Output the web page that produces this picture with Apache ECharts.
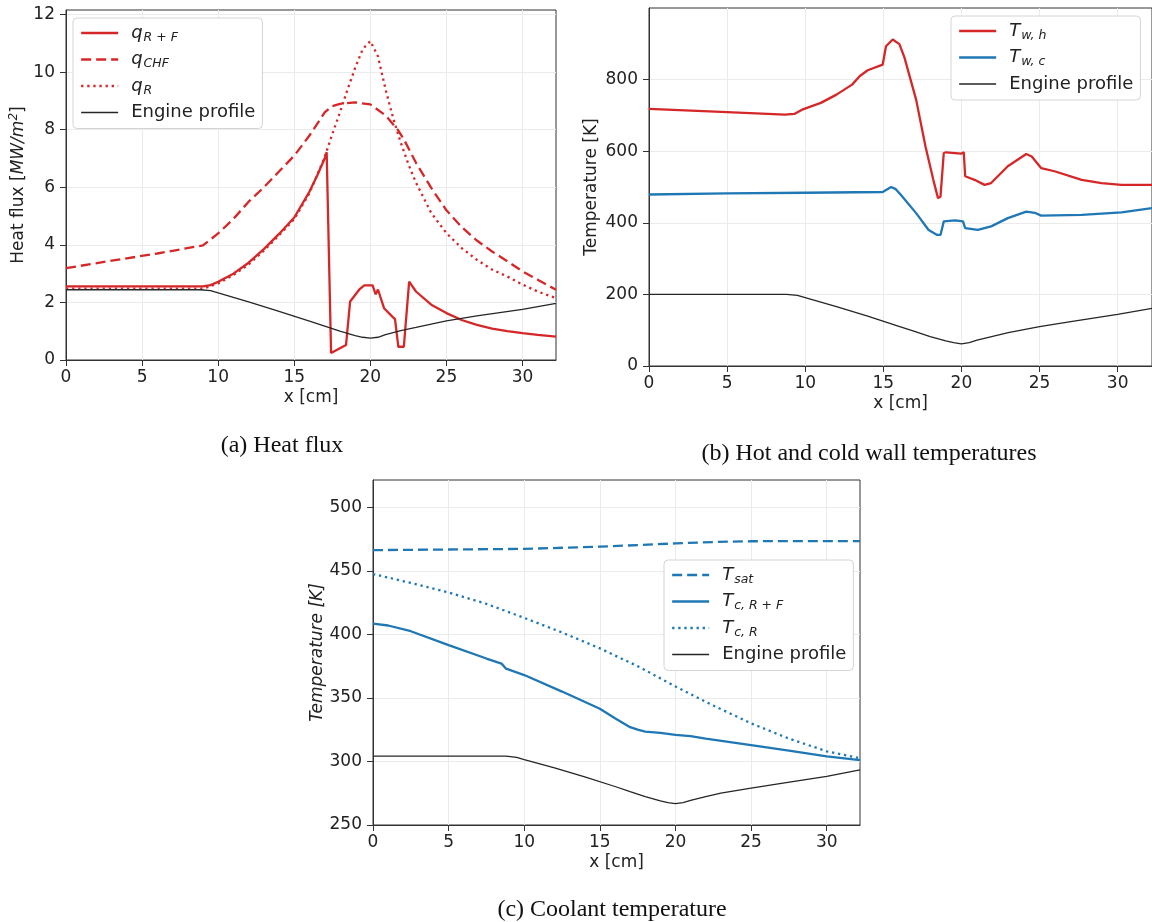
<!DOCTYPE html>
<html><head><meta charset="utf-8">
<script src="https://cdn.jsdelivr.net/npm/echarts@6/dist/echarts.min.js"></script>
<style>html,body{margin:0;padding:0;background:#fff}#c{width:1152px;height:922px}</style>
</head><body><div id="c"></div>
<script>
// ---------- tick labels ----------
const xTicks = [0, 5, 10, 15, 20, 25, 30];
const yTicksA = [0, 2, 4, 6, 8, 10, 12];
const yTicksB = [0, 200, 400, 600, 800];
const yTicksC = [250, 300, 350, 400, 450, 500];

// ---------- (a) Heat flux [MW/m^2] ----------
const qRF_x = [0, 9, 9.5, 10, 11, 12, 13, 14, 15, 16, 16.5, 17, 17.13, 17.42, 18.4, 18.67, 19.28, 19.6, 20.15, 20.35, 20.5, 20.9, 21.46, 21.62, 21.84, 22.2, 22.55, 23, 24, 25, 26, 27, 28, 29, 30, 31, 32.2];
const qRF_y = [2.56, 2.56, 2.6, 2.72, 3.0, 3.38, 3.85, 4.38, 4.95, 5.85, 6.4, 7.0, 7.22, 0.24, 0.52, 2.03, 2.45, 2.59, 2.59, 2.28, 2.45, 1.8, 1.5, 1.42, 0.46, 0.46, 2.72, 2.38, 1.92, 1.63, 1.39, 1.22, 1.09, 1.0, 0.93, 0.87, 0.81];
const qCHF_x = [0, 3, 6, 9, 10, 11, 12, 13, 14, 15, 16, 17, 17.5, 18, 19, 20, 21, 21.8, 22.2, 23, 24, 25, 26, 27, 28, 29, 30, 31, 32.2];
const qCHF_y = [3.19, 3.45, 3.7, 3.98, 4.4, 4.9, 5.5, 6.0, 6.55, 7.1, 7.8, 8.6, 8.82, 8.9, 8.95, 8.88, 8.5, 8.0, 7.67, 6.85, 5.98, 5.2, 4.62, 4.15, 3.77, 3.43, 3.08, 2.79, 2.44];
const qR_x = [0, 9, 10, 11, 12, 13, 14, 15, 16, 17, 17.5, 18, 18.5, 19, 19.5, 20, 20.5, 21, 21.5, 22, 22.5, 23, 24, 25, 26, 27, 28, 29, 30, 31, 32.2];
const qR_y = [2.48, 2.48, 2.66, 2.95, 3.32, 3.8, 4.33, 4.9, 5.8, 7.05, 7.85, 8.6, 9.4, 10.15, 10.8, 11.08, 10.55, 9.4, 8.4, 7.55, 6.8, 6.16, 5.11, 4.41, 3.89, 3.48, 3.14, 2.9, 2.62, 2.38, 2.15];
const engA_x = [0, 8.8, 9.5, 10, 12, 14, 16, 17, 18, 19, 19.5, 20, 20.5, 21, 22, 23, 25, 27, 30, 32.2];
const engA_y = [2.44, 2.44, 2.41, 2.33, 2.02, 1.69, 1.35, 1.18, 1.0, 0.85, 0.79, 0.76, 0.79, 0.88, 1.02, 1.13, 1.36, 1.53, 1.76, 1.97];

// ---------- (b) Wall temperatures [K] ----------
const Twh_x = [0, 5, 8.7, 9.3, 9.8, 11, 12, 13, 13.5, 14, 14.96, 15.17, 15.6, 16.03, 16.35, 17.1, 17.7, 18.2, 18.5, 18.66, 18.87, 19.02, 19.98, 20.15, 20.24, 20.84, 21.48, 21.9, 22.97, 24.15, 24.5, 25.1, 25.96, 27.7, 28.97, 30.25, 32.2];
const Twh_y = [718, 709, 702, 704, 716, 735, 758, 786, 810, 826, 842, 893, 912, 899, 862, 744, 613, 520, 469, 473, 595, 597, 593, 597, 530, 520, 506, 511, 558, 592, 585, 553, 544, 520, 511, 506, 506];
const Twc_x = [0, 5, 10, 14.96, 15.5, 15.8, 16.2, 17.1, 17.9, 18.45, 18.66, 18.87, 19.6, 20.1, 20.24, 21.05, 21.9, 22.97, 24.15, 24.7, 25.1, 27.7, 30.25, 32.2];
const Twc_y = [479, 482, 484, 486, 500, 494, 474, 427, 380, 366, 366, 404, 407, 404, 385, 380, 390, 413, 431, 428, 420, 422, 429, 441];
const engB_x = [0, 8.8, 9.5, 10, 12, 14, 16, 17, 18, 19, 19.5, 20, 20.5, 21, 22, 23, 25, 27, 30, 32.2];
const engB_y = [200, 200, 197, 191, 166, 139, 111, 97, 82, 70, 65, 62, 65, 72, 83, 93, 110, 124, 144, 161];

// ---------- (c) Coolant temperature [K] ----------
const Tsat_x = [0, 5, 10, 15, 17.5, 20, 22.5, 25, 28, 32.2];
const Tsat_y = [466.3, 466.8, 467.3, 469, 470.3, 471.6, 472.7, 473.3, 473.4, 473.4];
const TcRF_x = [0, 1, 2.5, 5, 7.5, 8.5, 8.8, 10, 12.5, 15, 16, 17, 17.5, 18, 19, 20, 21, 22, 25, 27.5, 30, 32.2];
const TcRF_y = [408.5, 407, 402.5, 391.5, 381, 377, 373, 368, 355, 341.5, 334, 327, 325, 323.5, 322.5, 321, 320, 318, 312.8, 308.5, 304, 301];
const TcR_x = [0, 2.5, 5, 7.5, 10, 12.5, 15, 17.5, 20, 22.5, 25, 27.5, 30, 32.2];
const TcR_y = [447.5, 440.5, 433, 424, 413, 401.5, 389, 375, 359, 344, 330, 318, 308, 302.5];
const engC_x = [0, 8.8, 9.5, 10, 12, 14, 16, 17, 18, 19, 19.5, 20, 20.5, 21, 22, 23, 25, 27, 30, 32.2];
const engC_y = [304.2, 304.2, 303.2, 301.5, 295, 287.8, 280.3, 276.3, 272.4, 269, 267.6, 266.8, 267.6, 269.3, 272.3, 275, 279, 282.8, 288.3, 293.3];

// ---------- labels ----------
const LABELS = {
  'qRF': '{i|q}{s|R + F}',
  'qCHF': '{i|q}{s|CHF}',
  'qR': '{i|q}{s|R}',
  'Twh': '{i|T}{s|w, h}',
  'Twc': '{i|T}{s|w, c}',
  'Tsat': '{i|T}{s|sat}',
  'TcRF': '{i|T}{s|c, R + F}',
  'TcR': '{i|T}{s|c, R}',
  'Engine profile': '{n|Engine profile}'
};
const captions = ['(a) Heat flux', '(b) Hot and cold wall temperatures', '(c) Coolant temperature'];

const FONT = 'DejaVu Sans';
const RED = '#d62728', BLUE = '#1f77b4', BLACK = '#262626';
const pairs = (xs, ys) => xs.map((x, i) => [x, ys[i]]);

const RICH = {
  i: {fontFamily: FONT, fontStyle: 'italic', fontSize: 18, lineHeight: 22, color: '#222'},
  s: {fontFamily: FONT, fontStyle: 'italic', fontSize: 12.5, lineHeight: 9, verticalAlign: 'bottom', color: '#222', padding: [0, 0, 0, 1]},
  n: {fontFamily: FONT, fontSize: 18, lineHeight: 22, color: '#222'}
};

function xAxis(gi) {
  return {
    type: 'value', gridIndex: gi, min: 0, max: 32.2, interval: 5,
    name: 'x [cm]', nameLocation: 'middle', nameGap: 29,
    nameTextStyle: {fontFamily: FONT, fontSize: 17, color: '#222'},
    axisLine: {show: true, onZero: false, lineStyle: {color: '#333', width: 1}},
    axisTick: {show: true, inside: false, length: 6, lineStyle: {color: '#333'}, customValues: xTicks},
    axisLabel: {fontFamily: FONT, fontSize: 17, color: '#222', margin: 9, customValues: xTicks},
    splitLine: {show: true, lineStyle: {color: '#ebebeb', width: 1}}
  };
}
function yAxis(gi, min, max, interval, ticks, name, gap, nameStyle) {
  return {
    type: 'value', gridIndex: gi, min: min, max: max, interval: interval,
    name: name, nameLocation: 'middle', nameGap: gap,
    nameTextStyle: Object.assign({fontFamily: FONT, fontSize: 17, color: '#222'}, nameStyle || {}),
    axisLine: {show: true, onZero: false, lineStyle: {color: '#333', width: 1}},
    axisTick: {show: true, inside: false, length: 6, lineStyle: {color: '#333'}, customValues: ticks},
    axisLabel: {fontFamily: FONT, fontSize: 17, color: '#222', margin: 11, customValues: ticks},
    splitLine: {show: true, lineStyle: {color: '#ebebeb', width: 1}}
  };
}
function line(name, xs, ys, color, width, type, gi) {
  return {
    type: 'line', name: name, data: pairs(xs, ys), xAxisIndex: gi, yAxisIndex: gi,
    symbol: 'none', smooth: false, clip: true,
    lineStyle: {color: color, width: width, type: type, cap: 'butt'},
    itemStyle: {color: color}, z: 3
  };
}
function legend(names, left, top) {
  return {
    data: names, orient: 'vertical', left: left, top: top,
    itemWidth: 37, itemHeight: 22, itemGap: 4.5,
    padding: [4, 7, 5, 7],
    backgroundColor: '#fff', borderColor: '#d4d4d4', borderWidth: 1, borderRadius: 4,
    selectedMode: false,
    lineStyle: {width: 'inherit'},
    itemStyle: {opacity: 0},
    formatter: n => LABELS[n],
    textStyle: {fontFamily: FONT, fontSize: 18, color: '#222', lineHeight: 22, padding: [0, 0, 0, 8], rich: RICH}
  };
}
function caption(text, x, y) {
  return {type: 'text', x: x, y: y, z: 10,
    style: {text: text, font: '24px "Liberation Serif"', fill: '#111', align: 'center', verticalAlign: 'middle', textAlign: 'center', textVerticalAlign: 'middle'}};
}

const DOT = [2.3, 3.8], DASH = [10, 5];
const option = {
  animation: false,
  backgroundColor: '#fff',
  grid: [
    {left: 66, top: 10, width: 490, height: 350, show: true, borderColor: '#333', borderWidth: 1, backgroundColor: 'rgba(0,0,0,0)'},
    {left: 649, top: 8, width: 504, height: 358, show: true, borderColor: '#333', borderWidth: 1, backgroundColor: 'rgba(0,0,0,0)'},
    {left: 373, top: 480, width: 487, height: 345, show: true, borderColor: '#333', borderWidth: 1, backgroundColor: 'rgba(0,0,0,0)'}
  ],
  xAxis: [xAxis(0), xAxis(1), xAxis(2)],
  yAxis: [
    yAxis(0, 0, 12.16, 2, yTicksA, 'Heat flux [{m|MW/m}{p|2}]', 36,
      {lineHeight: 22, rich: {m: {fontFamily: FONT, fontStyle: 'italic', fontSize: 17, lineHeight: 22, color: '#222'},
                              p: {fontFamily: FONT, fontStyle: 'italic', fontSize: 12, lineHeight: 10, verticalAlign: 'top', color: '#222'}}}),
    yAxis(1, 0, 1000, 200, yTicksB, 'Temperature [K]', 49),
    yAxis(2, 250, 521.5, 50, yTicksC, 'Temperature [K]', 46, {fontStyle: 'italic'})
  ],
  legend: [
    legend(['qRF', 'qCHF', 'qR', 'Engine profile'], 73, 18),
    legend(['Twh', 'Twc', 'Engine profile'], 951, 16),
    legend(['Tsat', 'TcRF', 'TcR', 'Engine profile'], 664, 560)
  ],
  series: [
    line('qRF', qRF_x, qRF_y, RED, 2.3, 'solid', 0),
    line('qCHF', qCHF_x, qCHF_y, RED, 2.3, DASH, 0),
    line('qR', qR_x, qR_y, RED, 2.3, DOT, 0),
    line('Engine profile', engA_x, engA_y, BLACK, 1.3, 'solid', 0),
    line('Twh', Twh_x, Twh_y, RED, 2.3, 'solid', 1),
    line('Twc', Twc_x, Twc_y, BLUE, 2.3, 'solid', 1),
    line('Engine profile', engB_x, engB_y, BLACK, 1.3, 'solid', 1),
    line('Tsat', Tsat_x, Tsat_y, BLUE, 2.3, DASH, 2),
    line('TcRF', TcRF_x, TcRF_y, BLUE, 2.3, 'solid', 2),
    line('TcR', TcR_x, TcR_y, BLUE, 2.3, DOT, 2),
    line('Engine profile', engC_x, engC_y, BLACK, 1.3, 'solid', 2)
  ],
  graphic: [
    caption(captions[0], 282, 446),
    caption(captions[1], 869, 454),
    caption(captions[2], 612, 910)
  ]
};
const chart = echarts.init(document.getElementById('c'), null, {renderer: 'canvas'});
chart.setOption(option);
</script>
</body></html>
